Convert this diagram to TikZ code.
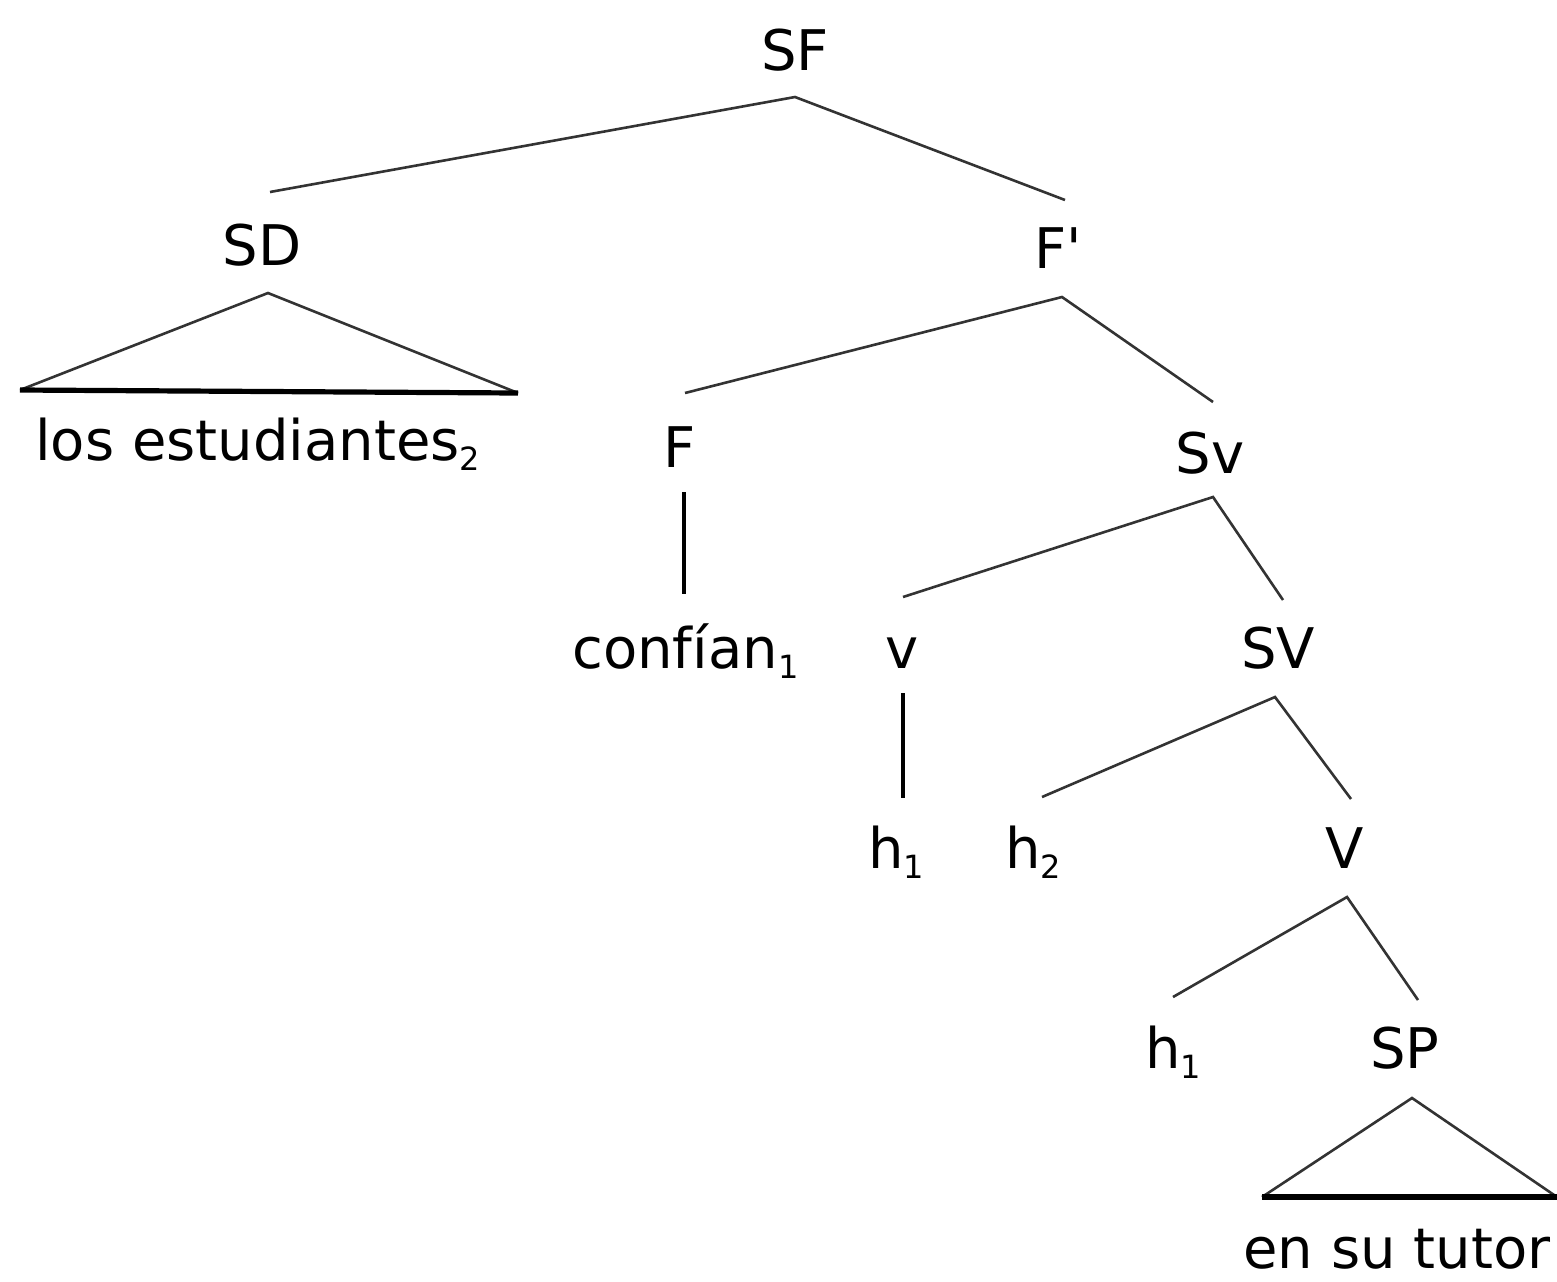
\documentclass[tikz,border=0pt]{standalone}
\usepackage{fontspec}
\setmainfont{DejaVu Sans}
% same face without TeX quote ligatures, for the straight prime
\newfontfamily\plainface{DejaVu Sans}
\newcommand\idx[1]{\raisebox{-5pt}{\fontsize{16}{16}\selectfont #1}}
\begin{document}
\begin{tikzpicture}[x=0.5pt,y=-0.5pt,
  lbl/.style={anchor=base,inner sep=0pt,font=\fontsize{28}{30}\selectfont},
  lblw/.style={lbl,anchor=base west},
  branch/.style={line width=1.3pt,draw=black!80},
  stem/.style={line width=1.6pt,draw=black},
  baseline/.style={line width=2.6pt,draw=black}]
\useasboundingbox (0,0) rectangle (1557,1281);

% category labels
\node[lbl] (SF) at (795,70) {SF};
\node[lbl] (SD) at (262,265) {SD};
\node[lbl] (Fbar) at (1058,268) {\plainface F'};
\node[lblw] (los) at (35,460) {los estudiantes\idx{2}};
\node[lbl] (F) at (680,467) {F};
\node[lbl] (Sv) at (1210,473) {Sv};
\node[lblw] (conf) at (572,668) {confían\idx{1}};
\node[lbl] (v) at (902,668) {v};
\node[lbl] (SV) at (1278,668) {SV};
\node[lblw] (ha) at (868,868) {h\idx{1}};
\node[lblw] (hb) at (1005,868) {h\idx{2}};
\node[lbl] (V) at (1345,868) {V};
\node[lblw] (hc) at (1145,1068) {h\idx{1}};
\node[lbl] (SP) at (1405,1068) {SP};
\node[lblw] (tutor) at (1243,1268) {en su tutor};

% branch end points
\coordinate (SF-f) at (795,97);
\coordinate (SD-h) at (270,192);
\coordinate (Fbar-h) at (1065,200);
\coordinate (SD-f) at (268,293);
\coordinate (los-l) at (20,390);
\coordinate (los-r) at (518,393);
\coordinate (Fbar-f) at (1062,297);
\coordinate (F-h) at (685,393);
\coordinate (Sv-h) at (1213,402);
\coordinate (F-f) at (684,492);
\coordinate (conf-h) at (684,594);
\coordinate (Sv-f) at (1213,497);
\coordinate (v-h) at (903,597);
\coordinate (SV-h) at (1283,600);
\coordinate (v-f) at (903,693);
\coordinate (ha-h) at (903,798);
\coordinate (SV-f) at (1275,697);
\coordinate (hb-h) at (1042,797);
\coordinate (V-h) at (1351,799);
\coordinate (V-f) at (1347,897);
\coordinate (hc-h) at (1173,997);
\coordinate (SP-h) at (1418,1000);
\coordinate (SP-f) at (1412,1098);
\coordinate (tutor-l) at (1262,1197);
\coordinate (tutor-r) at (1557,1197);

% branches
\draw[branch] (SD-h) -- (SF-f) -- (Fbar-h);
\draw[branch] (los-l) -- (SD-f) -- (los-r);
\draw[baseline] (los-l) -- (los-r);
\draw[branch] (F-h) -- (Fbar-f) -- (Sv-h);
\draw[stem] (F-f) -- (conf-h);
\draw[branch] (v-h) -- (Sv-f) -- (SV-h);
\draw[stem] (v-f) -- (ha-h);
\draw[branch] (hb-h) -- (SV-f) -- (V-h);
\draw[branch] (hc-h) -- (V-f) -- (SP-h);
\draw[branch] (tutor-l) -- (SP-f) -- (tutor-r);
\draw[baseline] (tutor-l) -- (tutor-r);
\end{tikzpicture}
\end{document}
